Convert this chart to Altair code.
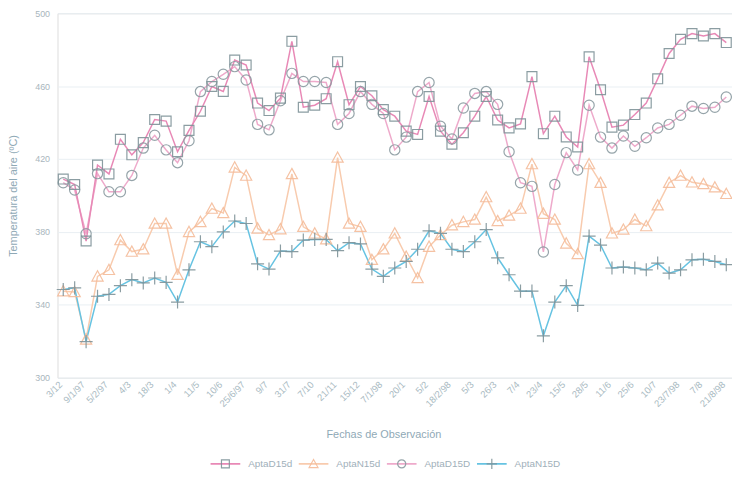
import json
import altair as alt
import pandas as pd

series_names = ["AptaD15d", "AptaN15d", "AptaD15D", "AptaN15D"]

date_labels = ["3/12", "9/1/97", "5/2/97", "4/3", "18/3", "1/4", "11/5", "10/6",
               "25/6/97", "9/7", "31/7", "7/10", "21/11", "15/12", "7/1/98", "20/1",
               "5/2", "18/2/98", "5/3", "26/3", "7/4", "23/4", "15/5", "28/5",
               "11/6", "25/6", "10/7", "23/7/98", "7/8", "21/8/98"]

apta_d15d = [409, 406, 375, 416.7, 411.8, 430.8, 422.3, 429, 441.7, 440.8,
             424, 435.7, 446.2, 459.8, 457.1, 474.3, 471.6, 450.7, 446.6, 453.4,
             484.6, 448.4, 449.5, 453.1, 473.4, 449.8, 459.8, 454.7, 447.1, 443.5,
             435.3, 433.5, 454.3, 435.3, 428.1, 434.4, 443.5, 454.3, 441.4, 437.1,
             439.3, 465.2, 433.9, 443.5, 432.1, 426.6, 476.1, 458, 437.5, 438.6,
             444.4, 450.7, 464, 477.9, 485.7, 488.8, 487.5, 488.8, 483.9]

apta_n15d = [347.5, 347, 321, 355.6, 359.2, 375.5, 369.2, 370.5, 384.6, 384.6,
             356.5, 380, 385.5, 392.8, 390.4, 415.4, 410.9, 381.9, 378.3, 381.5,
             411.8, 382.8, 379.2, 376, 420.8, 384.6, 382.8, 364.7, 370.5, 379.2,
             366.5, 354.7, 371.9, 378.3, 383.7, 385.5, 386.8, 399.1, 386, 389,
             392.8, 417.2, 390, 386.8, 373.7, 367.9, 417.2, 407, 379.2, 381.3,
             386.8, 383.2, 394.6, 407, 410.9, 407.2, 406.3, 404.5, 400.9]

apta_d15D = [407, 403, 379, 412, 402, 402, 411, 426, 433, 425,
             418, 430, 457, 462.5, 466.5, 470.7, 463.4, 439, 436, 452,
             467, 462.5, 462.5, 462, 439, 445, 457, 450, 445, 425,
             432, 457, 462, 438, 431, 448, 456, 457, 450, 424,
             407, 405, 369, 406, 423.5, 414, 449.5, 432, 426, 432.6,
             427, 431.7, 437, 439, 444, 449, 447.7, 448.4, 454]

apta_n15D = [348.4, 349.3, 319.8, 344.7, 345.7, 350.5, 353.8, 352, 354.7, 352.3,
             341.5, 359.2, 374.6, 371.9, 380, 386, 384.6, 362.5, 359.6, 369.5,
             369.2, 375.5, 375.9, 375.9, 369.7, 374.1, 373.4, 359.6, 355.6, 360.2,
             363.8, 370.5, 380.6, 379.2, 370.5, 369.2, 374.6, 381.3, 365.8, 356.5,
             347.5, 347.5, 323, 341.5, 350.5, 339.7, 377.7, 372.8, 360.2, 360.7,
             360.2, 359.2, 362.9, 357.4, 359.2, 364.7, 365, 363.8, 362]

line_colors = ["#e889b6", "#f8cbae", "#eeaacb", "#66c3e2"]
marker_colors = ["#7f9399", "#f5bc9a", "#8b9ba1", "#7f9399"]
marker_shapes = [
    "M-2,0M2,0M-0.53,-0.53H0.53V0.53H-0.53Z",
    "M-2,0M2,0M0,-0.6L0.6,0.5L-0.6,0.5Z",
    "M-2,0M2,0M-0.55,0A0.55,0.55,0,1,1,0.55,0A0.55,0.55,0,1,1,-0.55,0Z",
    "M-2,0M2,0M-0.7,0H0.7M0,-0.7V0.7",
]

values_by_series = dict(zip(series_names, [apta_d15d, apta_n15d, apta_d15D, apta_n15D]))
draw_order = ["AptaN15d", "AptaN15D", "AptaD15D", "AptaD15d"]
n = len(apta_d15d)
rows = []
for name in draw_order:
    for i, v in enumerate(values_by_series[name]):
        rows.append({"idx": i, "series": name, "temp": v})
df = pd.DataFrame(rows)

label_expr = json.dumps(date_labels) + "[round(datum.value/2)]"

x_enc = alt.X(
    "idx:O",
    scale=alt.Scale(type="point", padding=0.5),
    axis=alt.Axis(
        values=list(range(0, n, 2)), labelExpr=label_expr, labelAngle=-45,
        labelAlign="right", labelBaseline="middle", labelPadding=5, labelOffset=-3,
        ticks=False, grid=False, domain=False,
        title="Fechas de Observación", titleX=329, titleY=57,
        titleAlign="center", titleBaseline="middle",
        labelFontSize=9.5, labelColor="#a9bac2", titleFontSize=11,
        titleFontWeight="normal", titleColor="#8fa9b6",
    ),
)
y_enc = alt.Y(
    "temp:Q",
    scale=alt.Scale(domain=[300, 500], nice=False, zero=False),
    axis=alt.Axis(
        values=list(range(300, 501, 20)), ticks=False, domain=False,
        grid=True, gridColor="#e9eff3", labelPadding=8,
        labelFontSize=9, labelColor="#a9b6bd",
        title="Temperatura del aire (ºC)", titleX=-44, titleY=184,
        titleAlign="center", titleBaseline="middle", titleAngle=-90,
        titleFontSize=11, titleFontWeight="normal", titleColor="#8fa9b6",
    ),
)

common_legend = dict(
    orient="none", direction="horizontal", legendX=154, legendY=449,
    title=None, symbolSize=225, symbolOffset=7, labelOffset=14.5,
    columnPadding=6, clipHeight=12, padding=0, labelFontSize=10,
    labelColor="#9fb0ba",
)

lines = alt.Chart(df).mark_line(strokeWidth=1.5).encode(
    x=x_enc,
    y=y_enc,
    color=alt.Color(
        "series:N", sort=series_names, scale=alt.Scale(range=line_colors),
        legend=alt.Legend(symbolType="M-2,0H2", symbolStrokeWidth=1.6, **common_legend),
    ),
)

marker_legend = alt.Legend(symbolStrokeWidth=1.2, labelOpacity=0,
                           symbolFillColor="transparent", **common_legend)

points = alt.Chart(df).mark_point(filled=False, size=354, strokeWidth=1.2, opacity=0.9).encode(
    x="idx:O",
    y="temp:Q",
    shape=alt.Shape("series:N", scale=alt.Scale(domain=series_names, range=marker_shapes),
                    legend=marker_legend),
    stroke=alt.Stroke("series:N", scale=alt.Scale(domain=series_names, range=marker_colors),
                      legend=marker_legend),
)

chart = alt.layer(lines, points).properties(
    width=681, height=368,
    autosize=alt.AutoSizeParams(type="none"),
    padding={"left": 50, "top": 3, "right": 0, "bottom": 100},
    background="white",
).configure_view(
    stroke="#dbe5ec", strokeWidth=1.5,
).configure(
    font="Liberation Sans",
)

chart.save("out.html", embed_options={"renderer": "svg", "actions": False})
